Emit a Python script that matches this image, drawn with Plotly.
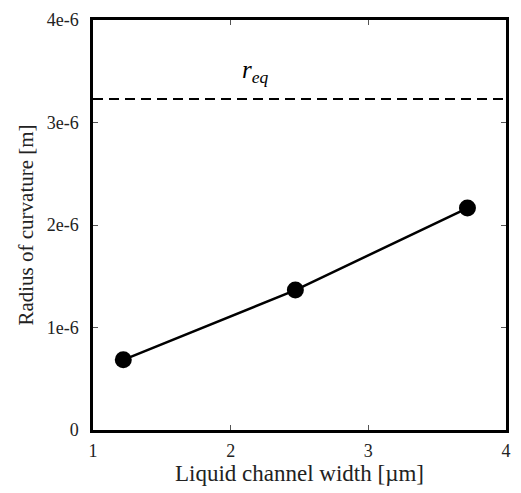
import plotly.graph_objects as go

# Data
channel_width = [1.22, 2.47, 3.72]          # µm
radius = [0.685e-6, 1.365e-6, 2.165e-6]     # m
r_eq = 3.23e-6
x_ticks = [1, 2, 3, 4]
y_ticks = [0, 1e-6, 2e-6, 3e-6, 4e-6]
y_ticktext = ["0", "1e-6", "2e-6", "3e-6", "4e-6"]

font = "Liberation Serif, Times New Roman, serif"

fig = go.Figure()
fig.add_trace(go.Scatter(
    x=[x_ticks[0], x_ticks[-1]], y=[r_eq, r_eq], mode="lines",
    line=dict(color="black", width=2, dash="10px,6px"), showlegend=False,
    hoverinfo="skip"))
fig.add_trace(go.Scatter(
    x=channel_width, y=radius, mode="lines+markers",
    line=dict(color="black", width=2.5),
    marker=dict(color="black", size=17), showlegend=False))

fig.add_annotation(x=2.18, y=3.5e-6, text="<i>r</i><sub><i>eq</i></sub>",
                   showarrow=False, font=dict(family=font, size=25, color="black"))

fig.update_layout(
    width=521, height=493,
    margin=dict(l=93, r=10, t=11, b=63),
    paper_bgcolor="white", plot_bgcolor="white",
    font=dict(family=font, size=18, color="#222"),
)
fig.update_xaxes(
    range=[1, 4], tickvals=x_ticks, ticks="inside", ticklen=5, tickwidth=1,
    tickcolor="#555", showline=True, linecolor="black", linewidth=2.5,
    mirror="allticks", showgrid=False, zeroline=False, ticklabelstandoff=3,
    title=dict(text="Liquid channel width [µm]", font=dict(size=23), standoff=5))
fig.update_yaxes(
    range=[0, 4e-6], tickvals=y_ticks, ticktext=y_ticktext, ticks="inside",
    ticklen=5, tickwidth=1, tickcolor="#555", showline=True, linecolor="black",
    linewidth=2.5, mirror="allticks", showgrid=False, zeroline=False,
    ticklabelstandoff=8,
    title=dict(text="Radius of curvature [m]", font=dict(size=21), standoff=8))

fig.write_html("out.html")
